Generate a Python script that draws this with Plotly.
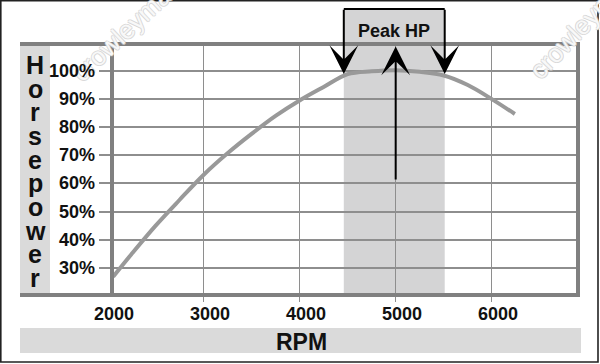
import plotly.graph_objects as go

# ---- data ----
RPM = [2060, 2250, 2500, 2750, 3000, 3250, 3500, 3750, 4000, 4250, 4500, 4750, 5000,
       5250, 5500, 5750, 6000, 6240]
HP = [26.8, 34.8, 44.9, 54.1, 63.0, 70.7, 77.6, 84.0, 89.5, 94.3, 98.9, 99.9, 100.3,
      99.7, 98.4, 95.0, 90.0, 84.7]
X_TICKS = [2000, 3000, 4000, 5000, 6000]
Y_TICKS = [30, 40, 50, 60, 70, 80, 90, 100]
Y_TICK_TEXT = [f"{v}%" for v in Y_TICKS]
PEAK_BAND = [4460, 5510]
PEAK_RPM = 5000
PEAK_LABEL = "Peak HP"
Y_LABEL = "Horsepower"
X_LABEL = "RPM"
WATERMARK = "crowleymarine.com"

X_RANGE = [2048, 6897]
Y_RANGE = [20.3, 109.6]

W, H = 600, 364
ML, MR, MT, MB = 112, 22, 44, 69
PW, PH = W - ML - MR, H - MT - MB


def px_x(p):
    return (p - ML) / PW


def px_y(p):
    return (H - MB - p) / PH


def data_to_paper_x(v):
    return (v - X_RANGE[0]) / (X_RANGE[1] - X_RANGE[0])


def paper_to_y(f):
    return Y_RANGE[0] + f * (Y_RANGE[1] - Y_RANGE[0])


FONT = "Liberation Sans, Arial, sans-serif"
FRAME = "#808080"
GRID = "#8e8e8e"
SHADE = "#d4d4d5"
STRIP = "#dadada"
LABEL_FONT = dict(family=FONT, size=18, color="#111", weight="bold")

fig = go.Figure()
fig.add_trace(go.Scatter(
    x=RPM, y=HP, mode="lines",
    line=dict(color="#999999", width=4, shape="spline", smoothing=1.0),
    hoverinfo="skip", showlegend=False,
))

shapes = []
# shaded peak band
shapes.append(dict(type="rect", xref="x", yref="paper", x0=PEAK_BAND[0], x1=PEAK_BAND[1],
                   y0=0, y1=1, fillcolor=SHADE, line=dict(width=0), layer="below"))
BOX_TOP = px_y(9)
shapes.append(dict(type="rect", xref="x", yref="paper", x0=PEAK_BAND[0], x1=PEAK_BAND[1],
                   y0=1, y1=BOX_TOP, fillcolor=SHADE, line=dict(width=0), layer="below"))
# horsepower strip
shapes.append(dict(type="rect", xref="paper", yref="paper", x0=px_x(20), x1=px_x(50),
                   y0=px_y(293), y1=px_y(45), fillcolor=STRIP, line=dict(width=0), layer="below"))
# rpm strip
shapes.append(dict(type="rect", xref="paper", yref="paper", x0=px_x(20), x1=px_x(581),
                   y0=px_y(353), y1=px_y(328), fillcolor=STRIP, line=dict(width=0), layer="below"))
# frame
for y in (0, 1):
    shapes.append(dict(type="line", xref="paper", yref="paper", x0=px_x(20), x1=px_x(580),
                       y0=y, y1=y, line=dict(color=FRAME, width=4), layer="above"))
for x in (0, 1):
    shapes.append(dict(type="line", xref="paper", yref="paper", x0=x, x1=x,
                       y0=0, y1=1, line=dict(color=FRAME, width=4), layer="above"))
# peak box top
shapes.append(dict(type="line", xref="x", yref="paper", x0=PEAK_BAND[0], x1=PEAK_BAND[1],
                   y0=BOX_TOP, y1=BOX_TOP, line=dict(color="black", width=2), layer="above"))
# outer image border
shapes.append(dict(type="rect", xref="paper", yref="paper", x0=px_x(0.8), x1=px_x(598),
                   y0=px_y(362), y1=px_y(0.8), line=dict(color="#222222", width=1.6),
                   fillcolor="rgba(0,0,0,0)", layer="above"))

annotations = []
# watermarks (drawn first so other text sits above)
wm_font = dict(family=FONT, size=26, color="rgba(255,255,255,0.85)",
               shadow="1px 0 #d4d4d4, -1px 0 #d4d4d4, 0 1px #d4d4d4, 0 -1px #d4d4d4")
annotations.append(dict(x=px_x(158), y=px_y(0), xref="paper", yref="paper", text=WATERMARK,
                        showarrow=False, textangle=-43, font=wm_font,
                        xanchor="center", yanchor="middle"))
annotations.append(dict(x=px_x(612), y=px_y(-6), xref="paper", yref="paper", text=WATERMARK,
                        showarrow=False, textangle=-46, font=wm_font,
                        xanchor="center", yanchor="middle"))
# y tick labels (above the watermark)
for v, t in zip(Y_TICKS, Y_TICK_TEXT):
    annotations.append(dict(x=px_x(96.5), y=v, xref="paper", yref="y", text=t,
                            showarrow=False, font=LABEL_FONT, xanchor="right", yanchor="middle"))
# arrows
box_top_y = paper_to_y(BOX_TOP) + 0.3
for xb in PEAK_BAND:
    annotations.append(dict(x=xb, y=98.9, xref="x", yref="y", ax=xb, ay=box_top_y,
                            axref="x", ayref="y", text="", showarrow=True, arrowhead=3,
                            arrowsize=2.4, arrowwidth=2, arrowcolor="black", standoff=0))
annotations.append(dict(x=PEAK_RPM, y=108.7, xref="x", yref="y", ax=PEAK_RPM, ay=60.9,
                        axref="x", ayref="y", text="", showarrow=True, arrowhead=3,
                        arrowsize=2.4, arrowwidth=2, arrowcolor="black", standoff=0))
annotations.append(dict(x=4982, y=px_y(30.8), xref="x", yref="paper", text=PEAK_LABEL,
                        showarrow=False, font=LABEL_FONT, xanchor="center", yanchor="middle"))
# x tick labels
for v in X_TICKS:
    annotations.append(dict(x=data_to_paper_x(v), y=px_y(314.2), xref="paper", yref="paper",
                            text=str(v), showarrow=False, xshift=6.5, font=LABEL_FONT,
                            xanchor="center", yanchor="middle"))
# vertical y label
for i, ch in enumerate(Y_LABEL):
    annotations.append(dict(x=px_x(35), y=px_y(65 + i * 23.67), xref="paper", yref="paper",
                            text=ch, showarrow=False,
                            font=dict(family=FONT, size=25, color="#111", weight="bold"),
                            xanchor="center", yanchor="middle"))
annotations.append(dict(x=px_x(301.7), y=px_y(341.7), xref="paper", yref="paper", text=X_LABEL,
                        showarrow=False, font=dict(family=FONT, size=23, color="#111", weight="bold"),
                        xanchor="center", yanchor="middle"))

fig.update_layout(
    width=W, height=H,
    margin=dict(l=ML, r=MR, t=MT, b=MB),
    paper_bgcolor="white", plot_bgcolor="white",
    shapes=shapes, annotations=annotations,
    showlegend=False,
    xaxis=dict(range=X_RANGE, tickvals=X_TICKS, showticklabels=False, ticks="outside",
               ticklen=6, tickwidth=1.2, tickcolor=GRID, showgrid=True, gridcolor=GRID,
               gridwidth=1.2, zeroline=False, showline=False, fixedrange=True),
    yaxis=dict(range=Y_RANGE, tickvals=Y_TICKS, showticklabels=False, ticks="outside",
               ticklen=12, tickwidth=1.5, tickcolor=GRID, showgrid=True, gridcolor=GRID,
               gridwidth=1.5, zeroline=False, showline=False, fixedrange=True),
)

fig.write_html(
    "out.html",
    config={"displayModeBar": False},
    post_script="document.body.style.margin='0';document.body.style.overflow='hidden';",
)
